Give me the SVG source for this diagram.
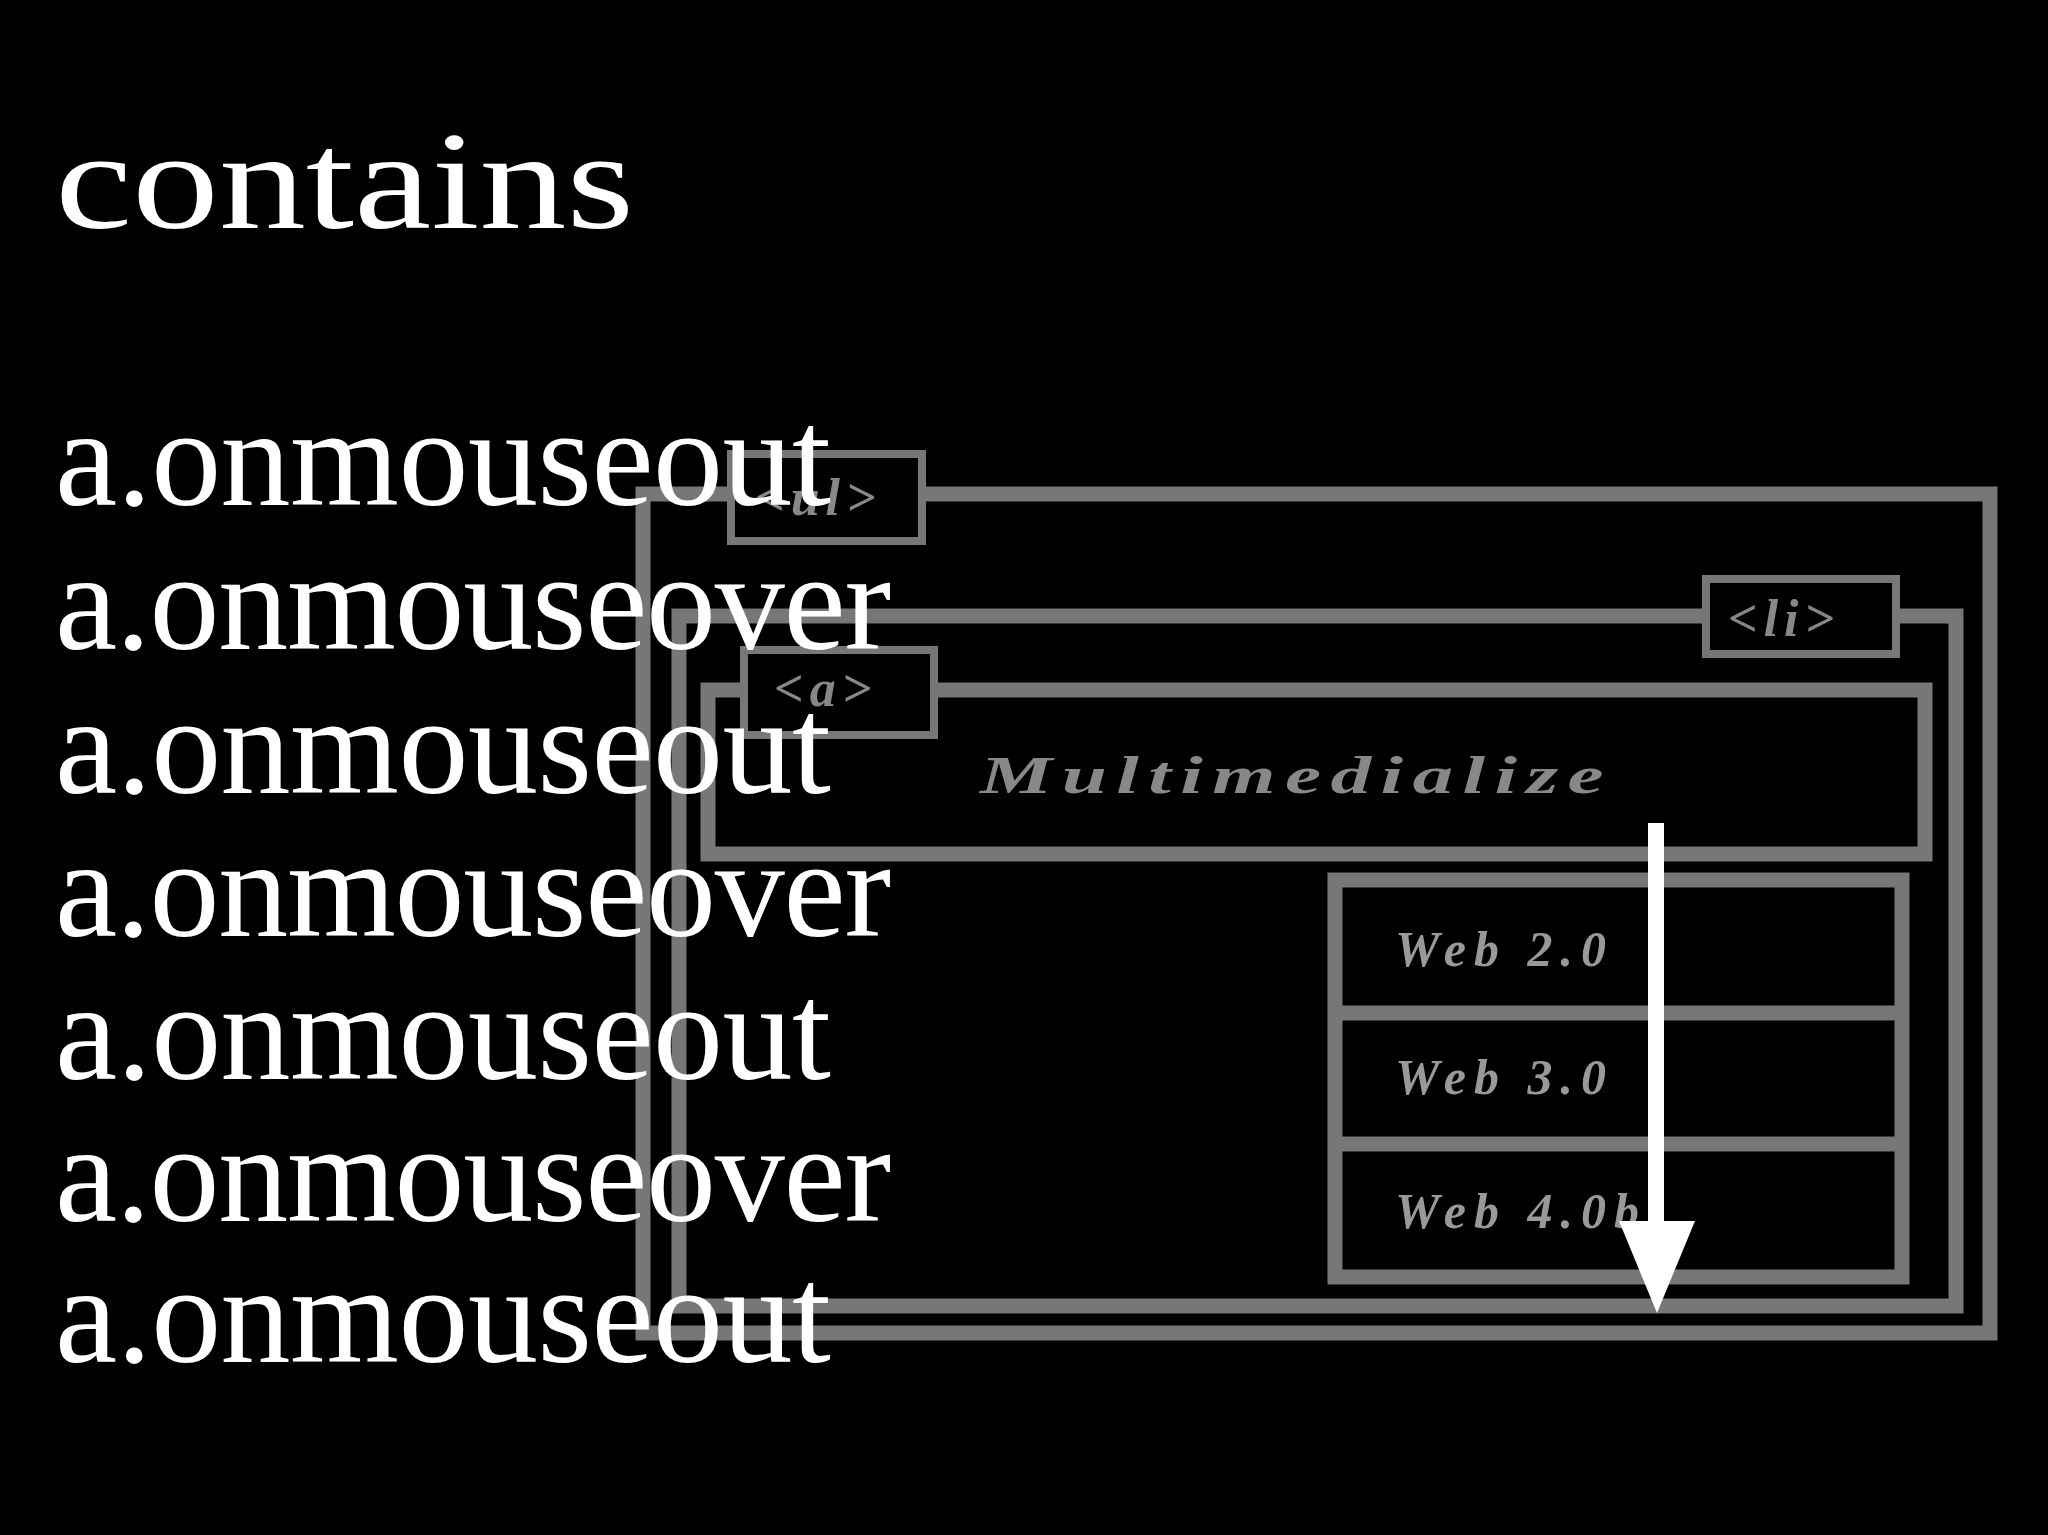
<svg xmlns="http://www.w3.org/2000/svg" width="2048" height="1535" viewBox="0 0 2048 1535">
<style>
.box{fill:none;stroke:#777;stroke-width:15}
.lab{fill:#000;stroke:#777;stroke-width:8}
.lt{fill:#888;font-family:"Liberation Serif",serif;font-style:italic;font-weight:bold;font-size:52px;letter-spacing:6px}
.wt{fill:#999;font-family:"Liberation Serif",serif;font-style:italic;font-weight:bold;font-size:50px;letter-spacing:8px}
.big{fill:#fff;font-family:"Liberation Serif",serif;font-size:140px}
</style>
<rect width="2048" height="1535" fill="#000"/>
<g id="ul"><rect class="box" x="643" y="494" width="1347" height="839"/></g>
<g id="li"><rect class="box" x="679" y="616" width="1277" height="690"/></g>
<g id="a"><rect class="box" x="708" y="690" width="1217" height="164"/>
<text class="lt" x="980" y="793" font-size="74" textLength="633" lengthAdjust="spacingAndGlyphs">Multimedialize</text></g>
<g id="submenu"><rect class="box" x="1335" y="880" width="567" height="397"/>
<line class="box" x1="1335" y1="1013" x2="1902" y2="1013"/>
<line class="box" x1="1335" y1="1144" x2="1902" y2="1144"/>
<text class="wt" x="1395" y="966">Web 2.0</text>
<text class="wt" x="1395" y="1094">Web 3.0</text>
<text class="wt" x="1395" y="1228">Web 4.0b</text></g>
<g id="labels">
<rect class="lab" x="731" y="454" width="191" height="87"/><text class="lt" x="755" y="515">&lt;ul&gt;</text>
<rect class="lab" x="1706" y="579" width="190" height="75"/><text class="lt" x="1728" y="636">&lt;li&gt;</text>
<rect class="lab" x="744" y="650" width="190" height="85"/><text class="lt" x="774" y="706">&lt;a&gt;</text>
</g>
<g id="connectors"><line x1="1656" y1="823" x2="1656" y2="1230" stroke="#fff" stroke-width="16"/>
<polygon points="1619,1221 1695,1221 1657,1313" fill="#fff"/></g>
<g id="text">
<text x="55" y="228" class="big" font-size="165" textLength="579" lengthAdjust="spacingAndGlyphs">contains</text>
<text x="55" y="505" class="big" textLength="776">a.onmouseout</text>
<text x="55" y="649" class="big" textLength="836">a.onmouseover</text>
<text x="55" y="793" class="big" textLength="776">a.onmouseout</text>
<text x="55" y="936" class="big" textLength="836">a.onmouseover</text>
<text x="55" y="1079" class="big" textLength="776">a.onmouseout</text>
<text x="55" y="1221" class="big" textLength="836">a.onmouseover</text>
<text x="55" y="1362" class="big" textLength="776">a.onmouseout</text>
</g>
</svg>
